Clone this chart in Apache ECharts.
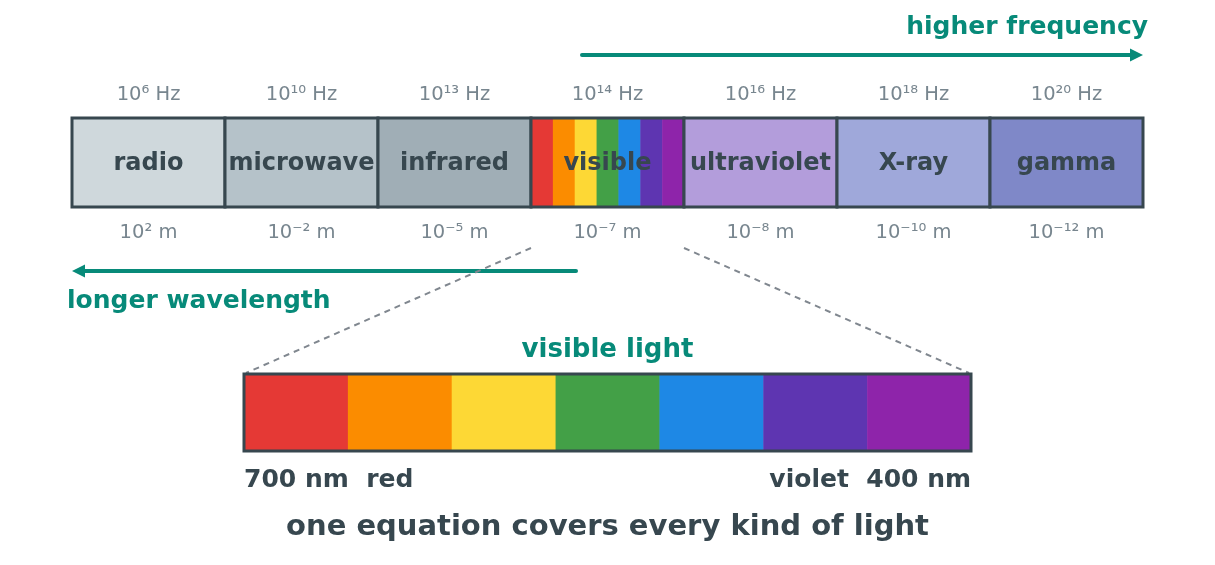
<!DOCTYPE html>
<html><head><meta charset="utf-8">
<script src="https://cdn.jsdelivr.net/npm/echarts@6/dist/echarts.min.js"></script>
<style>html,body{margin:0;padding:0;background:#fff}#c{width:1215px;height:565px}</style>
</head><body><div id="c"></div>
<script>
const bands = ['radio','microwave','infrared','visible','ultraviolet','X-ray','gamma'];
const freqLabels = ['10⁶ Hz','10¹⁰ Hz','10¹³ Hz','10¹⁴ Hz','10¹⁶ Hz','10¹⁸ Hz','10²⁰ Hz'];
const waveLabels = ['10² m','10⁻² m','10⁻⁵ m','10⁻⁷ m','10⁻⁸ m','10⁻¹⁰ m','10⁻¹² m'];
const bandColors = ['#cfd8dc','#b5c2c9','#a0aeb6',null,'#b39ddb','#9fa8da','#7f88c8'];
const rainbowNames = ['red','orange','yellow','green','blue','indigo','violet'];
const rainbowColors = ['#e53935','#fb8c00','#fdd835','#43a047','#1e88e5','#5e35b1','#8e24aa'];
const visibleIndex = 3;

const DARK = '#37474f', GREY = '#78868f', TEAL = '#078a79';
const FONT = 'DejaVu Sans';

const chart = echarts.init(document.getElementById('c'), null, {renderer:'canvas'});

function bandItem(params, api) {
  const i = api.value(0);
  const c = api.coord([i, 0]);
  const s = api.size([1, 1]);
  const w = s[0], h = s[1];
  const x = c[0] - w/2, y = c[1] - h;
  const children = [];
  if (i === visibleIndex) {
    const sw = w / rainbowColors.length;
    rainbowColors.forEach((col, k) => {
      children.push({type:'rect', shape:{x:x+k*sw, y:y, width:sw+0.5, height:h}, style:{fill:col}});
    });
    children.push({type:'rect', shape:{x:x, y:y, width:w, height:h}, style:{fill:'none', stroke:DARK, lineWidth:3}});
  } else {
    children.push({type:'rect', shape:{x:x, y:y, width:w, height:h}, style:{fill:bandColors[i], stroke:DARK, lineWidth:3}});
  }
  children.push({type:'text', style:{text:bands[i], x:c[0], y:y+h/2+1, align:'center', verticalAlign:'middle',
    fill:DARK, font:'bold 24px "'+FONT+'"'}, z2:10});
  return {type:'group', children};
}

function stripeItem(params, api) {
  const i = api.value(0);
  const c = api.coord([i, 0]);
  const s = api.size([1, 1]);
  return {type:'rect', shape:{x:c[0]-s[0]/2, y:c[1]-s[1], width:s[0]+0.5, height:s[1]}, style:{fill:rainbowColors[i]}};
}

function outlineItem(params, api) {
  const a = api.coord([api.value(0), 0]);
  const b = api.coord([api.value(1), 1]);
  const s = api.size([1, 1]);
  const x0 = a[0]-s[0]/2, x1 = b[0]+s[0]/2;
  return {type:'rect', shape:{x:x0, y:b[1], width:x1-x0, height:a[1]-b[1]}, style:{fill:'none', stroke:DARK, lineWidth:3}};
}

const hidden = {show:false};
const option = {
  animation:false,
  grid:[
    {left:72, right:72, top:118, height:89},
    {left:244, right:244, top:374, height:77}
  ],
  xAxis:[
    {type:'category', gridIndex:0, data:bands, position:'top', axisLine:hidden, axisTick:hidden, splitLine:hidden,
     axisLabel:{margin:13, color:GREY, fontSize:19.5, fontFamily:FONT, formatter:(v,i)=>freqLabels[i]}},
    {type:'category', gridIndex:0, data:bands, position:'bottom', axisLine:hidden, axisTick:hidden, splitLine:hidden,
     axisLabel:{margin:16, color:GREY, fontSize:19.5, fontFamily:FONT, formatter:(v,i)=>waveLabels[i]}},
    {type:'category', gridIndex:1, data:rainbowNames, show:false}
  ],
  yAxis:[
    {type:'value', gridIndex:0, min:0, max:1, show:false},
    {type:'value', gridIndex:1, min:0, max:1, show:false}
  ],
  series:[
    {type:'custom', xAxisIndex:0, yAxisIndex:0, renderItem:bandItem, data:bands.map((b,i)=>[i,1]), silent:true},
    {type:'custom', xAxisIndex:2, yAxisIndex:1, renderItem:stripeItem, data:rainbowNames.map((b,i)=>[i,1]), silent:true},
    {type:'custom', xAxisIndex:2, yAxisIndex:1, renderItem:outlineItem, data:[[0, rainbowNames.length-1]], silent:true, z:5}
  ]
};
chart.setOption(option);

// annotations positioned from the axes
const cx = i => chart.convertToPixel({xAxisIndex:0}, i);
const bw = cx(1) - cx(0);
const topLeft = cx(0) - bw/2, topRight = cx(bands.length-1) + bw/2;
const visL = cx(visibleIndex) - bw/2, visR = cx(visibleIndex) + bw/2;
const barTop = chart.convertToPixel({yAxisIndex:0}, 1), barBot = chart.convertToPixel({yAxisIndex:0}, 0);
const cx2 = i => chart.convertToPixel({xAxisIndex:2}, i);
const bw2 = cx2(1) - cx2(0);
const lowL = cx2(0) - bw2/2, lowR = cx2(rainbowNames.length-1) + bw2/2;
const lowTop = chart.convertToPixel({yAxisIndex:1}, 1), lowBot = chart.convertToPixel({yAxisIndex:1}, 0);
const midX = (topLeft + topRight)/2;

function arrow(x1, y, x2) {
  const dir = Math.sign(x2 - x1);
  return [
    {type:'line', shape:{x1:x1, y1:y, x2:x2 - dir*8, y2:y}, style:{stroke:TEAL, lineWidth:4, lineCap:'round'}},
    {type:'polygon', shape:{points:[[x2, y],[x2 - dir*13, y-6.5],[x2 - dir*13, y+6.5]]}, style:{fill:TEAL}}
  ];
}

const graphics = [
  {type:'text', style:{text:'higher frequency', x:topRight+5, y:27, align:'right', verticalAlign:'middle', fill:TEAL, font:'bold 25px "'+FONT+'"'}},
  ...arrow(582, 55, topRight),
  ...arrow(576, 271, topLeft),
  {type:'text', style:{text:'longer wavelength', x:topLeft-5, y:301, align:'left', verticalAlign:'middle', fill:TEAL, font:'bold 25px "'+FONT+'"'}},
  {type:'line', shape:{x1:visL, y1:barBot+41, x2:lowL+2, y2:lowTop-1}, style:{stroke:'#80878f', lineWidth:2, lineDash:[6,5]}},
  {type:'line', shape:{x1:visR, y1:barBot+41, x2:lowR-2, y2:lowTop-1}, style:{stroke:'#80878f', lineWidth:2, lineDash:[6,5]}},
  {type:'text', style:{text:'visible light', x:midX, y:lowTop-24, align:'center', verticalAlign:'middle', fill:TEAL, font:'bold 26px "'+FONT+'"'}},
  {type:'text', style:{text:'700 nm  red', x:lowL, y:lowBot+29, align:'left', verticalAlign:'middle', fill:DARK, font:'bold 25px "'+FONT+'"'}},
  {type:'text', style:{text:'violet  400 nm', x:lowR, y:lowBot+29, align:'right', verticalAlign:'middle', fill:DARK, font:'bold 25px "'+FONT+'"'}},
  {type:'text', style:{text:'one equation covers every kind of light', x:midX, y:527, align:'center', verticalAlign:'middle', fill:DARK, font:'bold 29px "'+FONT+'"'}}
];
chart.setOption({graphic:graphics});
</script>
</body></html>
